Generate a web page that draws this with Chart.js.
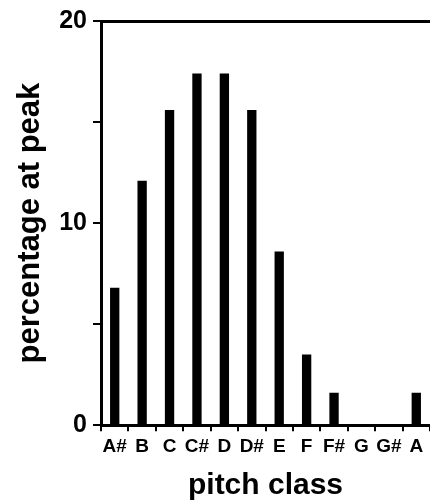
<!DOCTYPE html>
<html>
<head>
<meta charset="utf-8">
<script src="https://cdn.jsdelivr.net/npm/chart.js@4.4.1/dist/chart.umd.min.js"></script>
<style>
  html, body { margin: 0; padding: 0; background: #fff; }
  #wrap { width: 430px; height: 504px; }
</style>
</head>
<body>
<div id="wrap"><canvas id="myChart"></canvas></div>
<script>
const pitchClasses = ['A#', 'B', 'C', 'C#', 'D', 'D#', 'E', 'F', 'F#', 'G', 'G#', 'A'];
const percentAtPeak = [6.8, 12.1, 15.6, 17.4, 17.4, 15.6, 8.6, 3.5, 1.6, 0, 0, 1.6];
const yTicks = [0, 10, 20];

const font = "'Liberation Sans', Arial, Helvetica, sans-serif";

const ctx = document.getElementById('myChart').getContext('2d');
new Chart(ctx, {
    type: 'bar',
    data: {
        labels: pitchClasses,
        datasets: [
            {
                data: percentAtPeak,
                backgroundColor: '#000',
                barPercentage: 0.34,
                categoryPercentage: 1,
            },
        ],
    },
    options: {
        responsive: true,
        maintainAspectRatio: false,
        animation: false,
        layout: { padding: { top: 10, right: 0, left: 8, bottom: 0 } },
        plugins: { legend: { display: false }, tooltip: { enabled: false } },
        scales: {
            x: {
                grid: { display: true, drawOnChartArea: false, tickLength: 6, color: '#000', lineWidth: 2 },
                border: { display: true, color: '#000', width: 3 },
                ticks: { color: '#000', font: { family: font, weight: 'bold', size: 19 }, padding: 4, maxRotation: 0, autoSkip: false },
                title: { display: true, text: 'pitch class', color: '#000', font: { family: font, weight: 'bold', size: 30 }, padding: { top: 6, bottom: 0 } },
            },
            xTop: {
                position: 'top',
                labels: pitchClasses,
                grid: { display: false },
                border: { display: true, color: '#000', width: 3 },
                ticks: { display: false },
            },
            y: {
                min: 0,
                max: 20,
                ticks: {
                    stepSize: 5,
                    color: '#000',
                    font: { family: font, weight: 'bold', size: 25 },
                    padding: 6,
                    callback: (v) => (yTicks.includes(v) ? v : ''),
                },
                grid: { display: true, drawOnChartArea: false, tickLength: 8, color: '#000', lineWidth: 2 },
                border: { display: true, color: '#000', width: 3 },
                title: { display: true, text: 'percentage at peak', color: '#000', font: { family: font, weight: 'bold', size: 31 }, padding: { bottom: 4 } },
            },
        },
    },
});
</script>
</body>
</html>
